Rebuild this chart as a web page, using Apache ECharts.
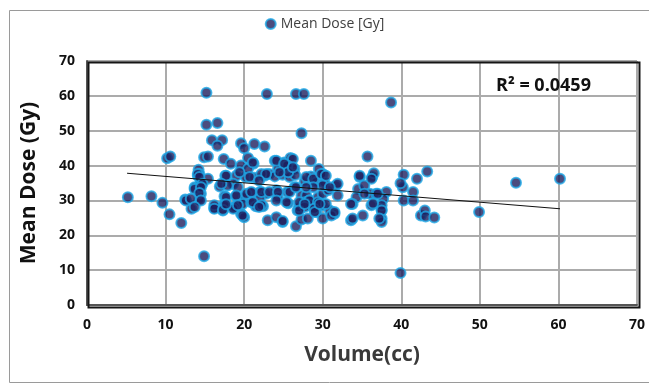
<!DOCTYPE html>
<html>
<head>
<meta charset="utf-8">
<script src="https://cdn.jsdelivr.net/npm/echarts@6/dist/echarts.min.js"></script>
<style>
  html, body { margin: 0; padding: 0; background: #fff; }
  #chart { width: 649px; height: 383px; }
</style>
</head>
<body>
<div id="chart"></div>
<script>
// volume (cc) / mean dose (Gy)
var volume = [
  15.2, 22.9, 15.2, 16.6, 15.9, 17.2, 16.6, 19.6, 20.0, 21.3, 22.6, 10.2, 10.6, 14.9, 15.4, 17.4,
  5.2, 8.2, 9.6, 10.5, 12.0, 12.5, 13.3, 14.9,
  18.3, 19.6, 20.5, 21.2, 23.9, 24.3, 14.2, 14.3, 14.1, 15.4, 17.6, 19.0, 20.2, 21.3, 22.6, 23.2, 23.9,
  13.7, 14.3, 14.5, 16.9, 14.5, 14.3, 17.5, 19.0, 20.0, 21.0, 22.0, 22.8, 24.1, 24.3,
  16.2, 17.5, 17.3, 18.7, 19.2, 19.8, 20.9, 22.0, 22.4, 21.5, 19.6, 20.0, 23.0, 24.1,
  26.6, 27.6, 38.7, 27.3, 35.7, 25.1, 25.9, 26.2, 26.4, 28.5, 29.5, 30.0, 25.5, 24.9, 25.8, 26.5,
  27.7, 28.5, 29.2, 30.2, 31.7, 34.7, 36.3, 36.5, 25.5, 26.4, 27.3, 27.9, 28.3, 29.4, 30.0, 30.7,
  31.9, 34.5, 35.3, 34.3, 36.0, 36.8, 38.1, 37.7, 25.6, 26.8, 27.0, 27.7, 28.5, 29.2, 29.6, 30.0,
  30.9, 31.5, 33.8, 36.2, 24.9, 26.6, 27.3, 28.1, 30.0, 33.6, 35.1,
  54.6, 60.2, 49.9, 39.9, 43.3, 42.0, 40.3, 40.2, 39.9, 40.3, 41.5, 41.5, 42.5, 43.0, 43.1, 44.2,
  37.5, 37.5, 37.5, 37.5, 36.4, 37.0, 35.3, 36.2, 34.7, 31.9,
  20.5, 19.4, 14.1, 14.3, 17.7, 14.7, 13.7, 14.5, 14.3, 18.6, 19.2, 17.9, 17.1, 12.6, 13.2, 14.5,
  17.7, 19.0, 20.3, 16.2, 17.5, 18.8, 13.7,
  21.1, 22.2, 22.8, 24.1, 25.1, 25.6, 24.5, 26.2, 20.7, 21.9, 20.9, 22.2, 23.2, 24.3, 25.8, 26.6,
  27.9, 28.8, 29.8, 30.4, 30.0, 28.8, 27.9, 30.9, 21.1, 22.2, 24.1, 25.4, 27.0, 28.3, 29.4, 30.4,
  27.7, 28.9, 16.2, 17.3, 18.6, 19.8, 19.2, 17.7, 24.9, 27.0, 29.0, 31.1, 21.9, 27.7, 29.6,
  33.8, 33.6, 37.5, 37.2, 31.5
];
var meanDose = [
  60.9, 60.5, 51.7, 52.2, 47.3, 47.3, 45.7, 46.4, 45.0, 46.2, 45.5, 42.1, 42.6, 42.4, 42.6, 41.9,
  30.9, 31.2, 29.3, 26.0, 23.5, 30.3, 27.6, 14.0,
  40.5, 40.0, 42.2, 40.5, 41.4, 39.0, 38.8, 37.6, 37.1, 36.2, 37.1, 37.1, 36.7, 36.5, 37.1, 37.6, 36.9,
  33.8, 34.3, 35.2, 34.0, 31.9, 30.3, 31.2, 31.2, 30.9, 32.1, 32.4, 31.9, 32.9, 30.9,
  27.8, 28.9, 27.1, 27.9, 28.9, 29.0, 29.5, 30.5, 28.3, 28.3, 26.2, 25.2, 24.3, 25.2,
  60.5, 60.5, 58.1, 49.3, 42.6, 40.9, 42.2, 41.9, 39.0, 41.4, 39.0, 37.6, 40.0, 37.4, 36.7, 37.3,
  35.5, 36.9, 35.2, 35.2, 34.3, 36.7, 36.7, 37.8, 32.4, 33.8, 31.4, 31.4, 30.0, 30.9, 31.9, 32.9,
  31.4, 33.3, 34.3, 30.9, 31.9, 31.9, 32.4, 30.5, 29.2, 27.1, 28.1, 29.5, 28.6, 26.7, 29.0, 28.6,
  27.1, 26.2, 29.0, 28.6, 23.8, 22.6, 24.5, 24.8, 24.8, 24.3, 25.7,
  35.1, 36.2, 26.7, 9.2, 38.3, 36.2, 37.4, 33.8, 34.9, 30.0, 32.4, 30.0, 25.7, 27.1, 25.4, 25.1,
  27.3, 24.8, 23.8, 28.6, 29.1, 31.9, 31.9, 36.2, 37.1, 34.8,
  39.1, 38.1, 37.6, 36.7, 37.1, 34.8, 33.3, 33.8, 32.1, 34.8, 33.8, 34.3, 34.8, 30.0, 30.5, 30.0,
  30.9, 31.4, 31.9, 28.6, 28.6, 28.1, 28.1,
  40.9, 37.6, 37.6, 41.4, 40.5, 38.1, 38.1, 39.5, 36.7, 35.7, 32.4, 32.4, 32.4, 32.4, 32.4, 33.8,
  36.7, 36.2, 37.6, 37.1, 34.3, 33.8, 33.8, 33.8, 29.5, 28.6, 30.0, 29.5, 29.5, 30.0, 29.5, 29.0,
  28.1, 27.6, 27.6, 27.3, 27.6, 25.7, 28.6, 28.9, 24.1, 27.1, 26.7, 25.7, 28.1, 29.0, 29.0,
  24.8, 29.0, 27.1, 24.8, 26.7
];
// trendline end points
var trendX = [5.1, 60.2];
var trendY = [37.8, 27.6];
var axisTicks = [0, 10, 20, 30, 40, 50, 60, 70];

var points = [];
for (var i = 0; i < volume.length; i++) {
    points.push([volume[i], meanDose[i]]);
}
var trend = [[trendX[0], trendY[0]], [trendX[1], trendY[1]]];

var myChart = echarts.init(document.getElementById('chart'));

var font = '"Open Sans", "Liberation Sans", sans-serif';

var option = {
    animation: false,
    backgroundColor: '#fff',
    textStyle: { fontFamily: font },
    legend: {
        top: 12,
        left: 'center',
        data: ['Mean Dose [Gy]'],
        icon: 'circle',
        itemWidth: 10,
        itemHeight: 10,
        itemGap: 5,
        textStyle: { fontSize: 14, color: '#404040', fontFamily: font }
    },
    grid: {
        left: 87,
        right: 12,
        top: 61,
        bottom: 78
    },
    xAxis: {
        type: 'value',
        min: axisTicks[0],
        max: axisTicks[axisTicks.length - 1],
        interval: 10,
        name: 'Volume(cc)',
        nameLocation: 'middle',
        nameGap: 40,
        nameTextStyle: { fontSize: 21, fontWeight: 'bold', color: '#3a3a3a', fontFamily: font },
        axisLine: { show: true, lineStyle: { color: '#555', width: 2 } },
        axisTick: { show: false },
        axisLabel: { fontSize: 14, fontWeight: 'bold', color: '#111', margin: 13, fontFamily: font },
        splitLine: { show: true, lineStyle: { color: '#ababab', width: 2 } }
    },
    yAxis: {
        type: 'value',
        min: axisTicks[0],
        max: axisTicks[axisTicks.length - 1],
        interval: 10,
        name: 'Mean Dose (Gy)',
        nameLocation: 'middle',
        nameGap: 47,
        nameTextStyle: { fontSize: 21, fontWeight: 'bold', color: '#111', fontFamily: font },
        axisLine: { show: true, lineStyle: { color: '#555', width: 2 } },
        axisTick: { show: false },
        axisLabel: { fontSize: 14, fontWeight: 'bold', color: '#111', margin: 12, fontFamily: font },
        splitLine: { show: true, lineStyle: { color: '#ababab', width: 2 } }
    },
    series: [
        {
            name: 'Mean Dose [Gy]',
            type: 'scatter',
            data: points,
            symbol: 'circle',
            symbolSize: 10,
            itemStyle: {
                color: '#1e1f5e',
                borderColor: '#1fa8e6',
                borderWidth: 2
            },
            z: 3
        },
        {
            name: 'trend',
            type: 'line',
            data: trend,
            showSymbol: false,
            symbol: 'none',
            silent: true,
            lineStyle: { color: '#111', width: 1 },
            z: 4
        }
    ],
    graphic: [
        {
            type: 'rect',
            left: 7,
            top: 8,
            shape: { width: 640, height: 372 },
            style: { fill: 'none', stroke: '#9a9a9a', lineWidth: 1 },
            silent: true
        },
        {
            type: 'rect',
            left: 86,
            top: 60,
            shape: { width: 551, height: 245 },
            style: { fill: 'none', stroke: '#151515', lineWidth: 2 },
            silent: true,
            z: 1
        },
        {
            type: 'text',
            left: 496,
            top: 77,
            style: {
                text: 'R² = 0.0459',
                fontSize: 18,
                fontWeight: 'bold',
                fill: '#111',
                fontFamily: font
            },
            z: 10
        }
    ]
};

myChart.setOption(option);
</script>
</body>
</html>
